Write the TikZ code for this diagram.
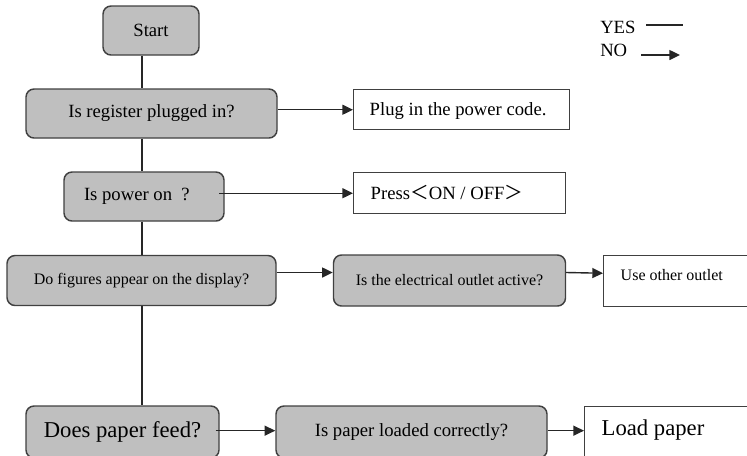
\documentclass[tikz,border=0pt]{standalone}
\usepackage{fontspec}
\setmainfont{Liberation Serif}
\newfontfamily\cjk{Noto Sans CJK SC}
\usetikzlibrary{arrows.meta}

\tikzset{
  decision/.style={draw=black!75, line width=1.1pt, fill=black!25, rounded corners=6pt,
    font=\fontsize{14}{17}\selectfont},
  action/.style={draw=black!75, line width=1.1pt, fill=white, anchor=north west,
    align=flush left, inner xsep=12.75pt, inner ysep=0pt, font=\fontsize{14}{17}\selectfont},
  yes/.style={draw=black!85, line width=1.05pt},
  no/.style={yes, -{Triangle[length=8pt,width=7.5pt]}},
}

\begin{document}
\begin{tikzpicture}[x=0.75pt,y=-0.75pt]
\useasboundingbox (0,0) rectangle (747,455);
\clip (0,0) rectangle (747,455);
% questions down the left side
\node[decision, minimum width=72pt, minimum height=36.75pt] (start) at (151,30.5) {Start};
\node[decision, minimum width=188.25pt, minimum height=36.75pt] (plugged) at (151.5,113.5) {Is register plugged in?};
\node[decision, text width=90pt, align=flush left, inner xsep=15pt, minimum height=36.75pt] (poweron) at (144,196.5) {Is power on\ \ ?};
\node[decision, minimum width=201.75pt, minimum height=37.5pt, font=\fontsize{12}{14}\selectfont] (display) at (141.5,280.5) {Do figures appear on the display?};
\node[decision, minimum width=144.75pt, minimum height=39pt, font=\fontsize{17}{20}\selectfont] (feed) at (122.5,432) {Does paper feed?};
% follow-up questions
\node[decision, minimum width=174pt, minimum height=38.25pt, font=\fontsize{12}{14}\selectfont] (outlet) at (449.5,280.5) {Is the electrical outlet active?};
\node[decision, minimum width=203.25pt, minimum height=39pt] (loaded) at (411.5,432) {Is paper loaded correctly?};
% what to do
\node[action, text width=138pt, inner xsep=12pt, text height=19.5pt, text depth=10.5pt] (plugin) at (353,89) {Plug in the power code.};
\node[action, text width=133.5pt, text height=20.25pt, text depth=10.5pt] (press) at (353,172) {Press{\cjk ＜}ON / OFF{\cjk ＞}};
\node[action, text width=105pt, text height=18.75pt, text depth=19.5pt, font=\fontsize{12}{14}\selectfont] (useother) at (603,255) {Use other outlet};
\node[action, text width=112.5pt, text height=21.75pt, text depth=22.5pt, font=\fontsize{17}{20}\selectfont] (loadpaper) at (584,406) {Load paper};

% yes path
\coordinate (spine) at (142,0);
\draw[yes] (start.south -| spine) -- (plugged.north -| spine);
\draw[yes] (plugged.south -| spine) -- (poweron.north -| spine);
\draw[yes] (poweron.south -| spine) -- (display.north -| spine);
\draw[yes] (display.south -| spine) -- (feed.north -| spine);

% no path
\draw[no] (plugged.east |- plugin.west) -- (plugin.west);
\draw[no] (poweron.east |- press.west) ++(-4pt,0) -- (press.west);
\draw[no] ([yshift=6pt]display.east) -- ([yshift=6pt]outlet.west);
\draw[no] ([yshift=6pt]outlet.east) -- ([yshift=6pt]useother.west);
\draw[no] (feed.east) ++(-3pt,1pt) -- ([yshift=1pt]loaded.west);
\draw[no] ([yshift=1pt]loaded.east) -- ([yshift=1pt]loaded.east -| loadpaper.west);

% key
\node[anchor=west, inner sep=0pt, font=\fontsize{14}{17}\selectfont] (yeslbl) at (600,27) {YES};
\node[anchor=west, inner sep=0pt, font=\fontsize{14}{17}\selectfont] (nolbl) at (600,50) {NO};
\coordinate (yesa) at (646,25);
\coordinate (yesb) at (683,25);
\coordinate (noa) at (641,55);
\coordinate (nob) at (680,55);
\draw[yes] (yesa) -- (yesb);
\draw[no] (noa) -- (nob);
\end{tikzpicture}
\end{document}
